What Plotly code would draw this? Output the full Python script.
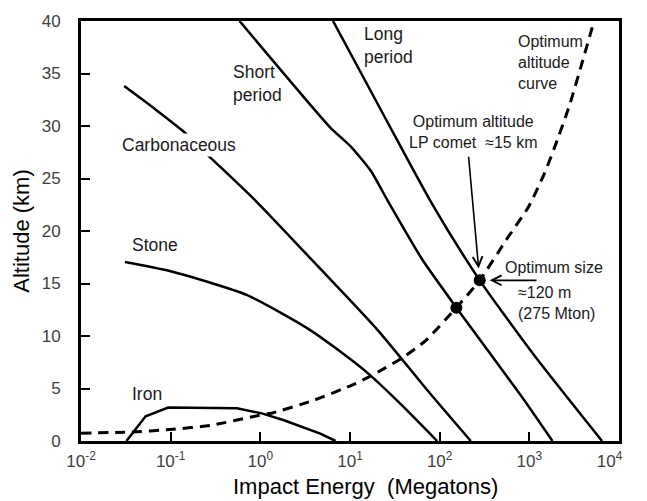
import numpy as np
import plotly.graph_objects as go

# ---------------- data ----------------
carb_x = [0.0303, 0.0652, 0.1411, 0.2615, 0.898, 3.947, 20.46, 76.2, 222.3]
carb_y = [33.81, 31.69, 29.43, 27.21, 22.83, 17.05, 10.54, 4.64, 0]

stone_x = [0.0309, 0.0975, 0.2615, 0.7017, 1.735, 3.638, 7.028, 15.99, 36.36, 93.76]
stone_y = [17.05, 16.19, 15.14, 13.92, 12.16, 10.54, 8.80, 6.42, 3.56, 0]

iron_x = [0.0321, 0.0526, 0.0938, 0.548, 1.06, 1.8, 4.66, 6.9]
iron_y = [0, 2.35, 3.18, 3.11, 2.61, 2.0, 0.70, 0]

short_x = [0.586, 5.958, 10.4, 17.2, 26.18, 64.74, 153.6, 827.9, 1810]
short_y = [40, 29.90, 27.97, 25.69, 22.92, 17.21, 12.70, 4.19, 0]

long_x = [6.463, 24.13, 82.85, 279.6, 548.4, 1250, 6464]
long_y = [40, 30.93, 22.54, 15.30, 11.81, 7.69, 0]

opt_x = [0.01, 0.0363, 0.0975, 0.2844, 0.976, 1.356, 3.95, 11.5, 20.5, 39.6, 70.3, 136,
         153.6, 279.6, 548, 976.8, 1471, 2046, 2844, 3947, 5272]
opt_y = [0.75, 0.86, 1.09, 1.50, 2.45, 2.67, 3.88, 5.47, 6.57, 8.0, 9.59, 12.2,
         12.70, 15.30, 19.11, 22.29, 25.47, 28.64, 32.13, 36.26, 40]

dot_x = [153.6, 279.6]
dot_y = [12.70, 15.30]

x_tickvals = [1e-2, 1e-1, 1e0, 1e1, 1e2, 1e3, 1e4]
x_ticktext = ["10<sup>-2</sup>", "10<sup>-1</sup>", "10<sup>0</sup>", "10<sup>1</sup>",
              "10<sup>2</sup>", "10<sup>3</sup>", "10<sup>4</sup>&nbsp;&nbsp;&nbsp;&nbsp;"]
y_tickvals = [0, 5, 10, 15, 20, 25, 30, 35, 40]

# ---------------- figure ----------------
FONT = "Liberation Sans, Arial, sans-serif"
fig = go.Figure()

def solid(x, y, shape="spline", smoothing=0.7):
    fig.add_trace(go.Scatter(x=x, y=y, mode="lines", line=dict(color="black", width=2.5, shape=shape,
                             smoothing=smoothing), showlegend=False, hoverinfo="skip"))

solid(carb_x, carb_y)
solid(stone_x, stone_y)
solid(iron_x, iron_y, shape="linear")
solid(short_x, short_y, smoothing=0.5)
solid(long_x, long_y)

fig.add_trace(go.Scatter(x=opt_x, y=opt_y, mode="lines",
                         line=dict(color="black", width=3, dash="10px,7px", shape="spline", smoothing=0.6),
                         showlegend=False, hoverinfo="skip"))
fig.add_trace(go.Scatter(x=dot_x, y=dot_y, mode="markers",
                         marker=dict(color="black", size=12), showlegend=False, hoverinfo="skip"))

ann_font_l = dict(family=FONT, size=17.5, color="#1a1a1a")
ann_font_r = dict(family=FONT, size=16, color="#1a1a1a")

def label(text, lx, y, font, xanchor="left", align="left", bg=None):
    d = dict(x=lx, y=y, xref="x", yref="y", text=text, showarrow=False, xanchor=xanchor,
             yanchor="middle", align=align, font=font)
    if bg:
        d["bgcolor"] = bg
    fig.add_annotation(**d)

label("Carbonaceous", -1.564, 28.16, ann_font_l, bg="white")
label("Stone", -1.457, 18.64, ann_font_l)
label("Iron", -1.457, 4.51, ann_font_l)
label("Short<br>period", -0.332, 34.07, ann_font_l)
label("Long<br>period", 1.132, 37.71, ann_font_l)
label("Optimum<br>altitude<br>curve", 2.846, 36.02, ann_font_r)
label("Optimum altitude<br>LP comet &nbsp;≈15 km", 2.382, 29.42, ann_font_r, xanchor="center", align="center")
label("Optimum size", 2.704, 16.57, ann_font_r)
label("≈120 m<br>(275 Mton)", 2.854, 13.13, ann_font_r)

# arrows pointing at the long-period optimum point
fig.add_annotation(x=np.log10(dot_x[1]), y=dot_y[1], xref="x", yref="y",
                   ax=2.321, ay=27.21, axref="x", ayref="y", text="", showarrow=True,
                   arrowhead=5, arrowsize=1.2, arrowwidth=1.6, arrowcolor="black", standoff=12)
fig.add_annotation(x=np.log10(dot_x[1]), y=dot_y[1], xref="x", yref="y",
                   ax=3.097, ay=dot_y[1], axref="x", ayref="y", text="", showarrow=True,
                   arrowhead=5, arrowsize=1.2, arrowwidth=1.6, arrowcolor="black", standoff=10)

# x-axis title (placed as paper annotation to sit where the reference has it)
fig.add_annotation(x=0.528, y=-0.108, xref="paper", yref="paper", text="Impact Energy  (Megatons)",
                   showarrow=False, xanchor="center", yanchor="middle",
                   font=dict(family=FONT, size=22, color="black"))

fig.update_layout(
    width=647, height=501,
    margin=dict(l=81, r=6, t=21, b=60),
    paper_bgcolor="white", plot_bgcolor="white",
    font=dict(family=FONT),
)
fig.update_xaxes(
    type="log", range=[-2, 4], tickvals=x_tickvals, ticktext=x_ticktext,
    showgrid=False, zeroline=False, showline=True, linecolor="black", linewidth=3, mirror=True,
    ticks="inside", ticklen=9, tickwidth=1.5, tickcolor="black", ticklabeloverflow="allow",
    tickfont=dict(family=FONT, size=17, color="#404040"), ticklabelstandoff=3,
)
fig.update_yaxes(
    range=[0, 40], tickvals=y_tickvals,
    showgrid=False, zeroline=False, showline=True, linecolor="black", linewidth=3, mirror=True,
    ticks="inside", ticklen=9, tickwidth=1.5, tickcolor="black",
    tickfont=dict(family=FONT, size=17, color="#404040"), ticklabelstandoff=14,
    title=dict(text="Altitude (km)", font=dict(family=FONT, size=22, color="black"), standoff=6),
)

fig.write_html("out.html", config={"displayModeBar": False},
               post_script="document.body.style.margin='0';document.body.style.overflow='hidden';")
